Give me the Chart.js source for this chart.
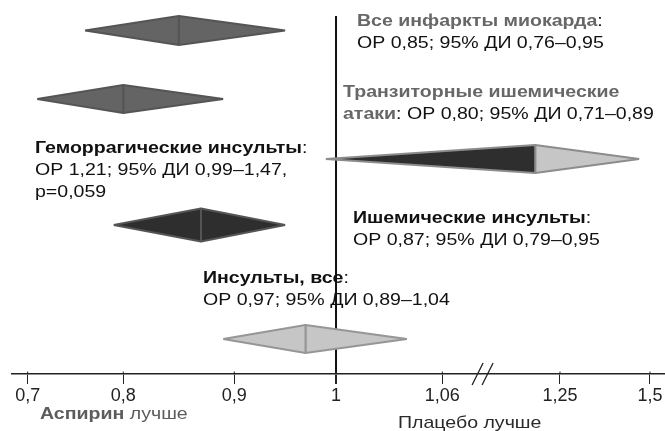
<!DOCTYPE html>
<html>
<head>
<meta charset="utf-8">
<script src="https://cdn.jsdelivr.net/npm/chart.js@4.4.1/dist/chart.umd.min.js"></script>
<style>
  html, body { margin: 0; padding: 0; background: #ffffff; }
  #wrap { width: 665px; height: 431px; }
</style>
</head>
<body>
<div id="wrap"><canvas id="forest" width="665" height="431"></canvas></div>
<script>
// ---- data ----
const outcomes  = ['Все инфаркты миокарда', 'Транзиторные ишемические атаки', 'Геморрагические инсульты', 'Ишемические инсульты', 'Инсульты, все'];
const riskRatio = [0.85, 0.80, 1.21, 0.87, 0.97];
const ciLow     = [0.76, 0.71, 0.99, 0.79, 0.89];
const ciHigh    = [0.95, 0.89, 1.47, 0.95, 1.04];
const pValue    = [null, null, 0.059, null, null];
const tickValues = [0.7, 0.8, 0.9, 1, 1.06, 1.25, 1.5];
const noEffect = 1;
const axisBreakAt = 1.125;
const sideLabels = ['Аспирин', 'лучше', 'Плацебо лучше'];

// ---- layout & style ----
// where each tick sits along the (broken) axis, as a fraction of the plot width
const TICK_PLACEMENT = [0.0240, 0.1704, 0.3404, 0.4962, 0.6590, 0.8392, 0.9770];
const PLOT_H = 374;          // height of the plotting band above the axis
const REF_TOP = 16;          // where the no-effect line starts
const ROWS = [               // vertical placement of each diamond
  { y: 30.5, half: 14.5 },
  { y: 99,   half: 14 },
  { y: 159,  half: 14 },
  { y: 225,  half: 16.5 },
  { y: 339,  half: 14 }
];
const DIAMOND_STYLE = [
  { left: '#646464', right: '#646464', edge: '#555555' },
  { left: '#646464', right: '#646464', edge: '#555555' },
  { left: '#2e2e2e', right: '#c6c6c6', edge: '#8c8c8c' },
  { left: '#2e2e2e', right: '#2e2e2e', edge: '#555555' },
  { left: '#c6c6c6', right: '#c6c6c6', edge: '#969696' }
];
const GREY = '#676767';
const INK = '#111111';
const FONT = '"Liberation Sans", Arial, sans-serif';
const FONT_PX = 17;
const TEXT_STRETCH = 1.15;
const LINE_GAP = 22;
const LABELS = [             // text block beside each diamond
  { x: 357, y: 26,  titleColor: GREY, firstLineWords: 3 },
  { x: 343, y: 97,  titleColor: GREY, firstLineWords: 2 },
  { x: 35,  y: 153, titleColor: INK,  firstLineWords: 2 },
  { x: 353, y: 223, titleColor: INK,  firstLineWords: 2 },
  { x: 203, y: 283, titleColor: INK,  firstLineWords: 2 }
];

const fmt = (v, d) => v.toFixed(d).replace('.', ',');

// ---- a linear scale with unevenly spaced, broken segments ----
class BrokenLinearScale extends Chart.LinearScale {
  buildTicks() {
    return tickValues.map(v => ({ value: v }));
  }
  _decimalFor(v) {
    const k = tickValues, f = TICK_PLACEMENT;
    let i = 0;
    while (i < k.length - 2 && v > k[i + 1]) i++;
    const t = (v - k[i]) / (k[i + 1] - k[i]);
    return f[i] + t * (f[i + 1] - f[i]);
  }
  getPixelForValue(v) {
    return this.getPixelForDecimal(this._decimalFor(v));
  }
  getValueForPixel(p) {
    const d = this.getDecimalForPixel(p);
    const k = tickValues, f = TICK_PLACEMENT;
    let i = 0;
    while (i < f.length - 2 && d > f[i + 1]) i++;
    const t = (d - f[i]) / (f[i + 1] - f[i]);
    return k[i] + t * (k[i + 1] - k[i]);
  }
}
BrokenLinearScale.id = 'brokenLinear';
BrokenLinearScale.defaults = Chart.LinearScale.defaults;
Chart.register(BrokenLinearScale);

// ---- diamonds: each one is two closed triangles meeting at the point estimate ----
const datasets = [];
outcomes.forEach((name, i) => {
  const r = ROWS[i], s = DIAMOND_STYLE[i];
  const top = r.y - r.half, bot = r.y + r.half;
  const common = {
    type: 'line', fill: 'shape', borderColor: s.edge, borderWidth: 2,
    borderJoinStyle: 'bevel', pointRadius: 0, tension: 0
  };
  datasets.push(Object.assign({}, common, {
    label: name,
    backgroundColor: s.left,
    data: [{ x: ciLow[i], y: r.y }, { x: riskRatio[i], y: top }, { x: riskRatio[i], y: bot }, { x: ciLow[i], y: r.y }]
  }));
  datasets.push(Object.assign({}, common, {
    label: name,
    backgroundColor: s.right,
    data: [{ x: ciHigh[i], y: r.y }, { x: riskRatio[i], y: top }, { x: riskRatio[i], y: bot }, { x: ciHigh[i], y: r.y }]
  }));
});
// line of no effect
datasets.push({
  type: 'line', label: 'ОР = 1', order: 10, fill: false,
  borderColor: '#111111', borderWidth: 2, pointRadius: 0,
  data: [{ x: noEffect, y: REF_TOP }, { x: noEffect, y: PLOT_H }]
});

function statLine(i) {
  return 'ОР ' + fmt(riskRatio[i], 2) + '; 95% ДИ ' + fmt(ciLow[i], 2) + '–' + fmt(ciHigh[i], 2);
}

function drawRuns(ctx, runs, x, y) {
  ctx.save();
  ctx.translate(x, y);
  ctx.scale(TEXT_STRETCH, 1);
  ctx.textAlign = 'left';
  ctx.textBaseline = 'alphabetic';
  let cx = 0;
  for (const r of runs) {
    ctx.font = (r.bold ? 'bold ' : '') + FONT_PX + 'px ' + FONT;
    ctx.fillStyle = r.color;
    ctx.fillText(r.text, cx, 0);
    cx += ctx.measureText(r.text).width;
  }
  ctx.restore();
}

const annotations = {
  id: 'forestText',
  afterDraw(chart) {
    const ctx = chart.ctx;
    const xs = chart.scales.x;
    const axisY = chart.chartArea.bottom;

    // outcome captions
    outcomes.forEach((name, i) => {
      const L = LABELS[i];
      const words = name.split(' ');
      const head = words.slice(0, L.firstLineWords).join(' ');
      const tail = words.slice(L.firstLineWords).join(' ');
      const lines = [];
      if (tail) {
        lines.push([{ text: head, bold: true, color: L.titleColor }]);
        lines.push([{ text: tail, bold: true, color: L.titleColor }, { text: ': ' + statLine(i), color: INK }]);
      } else {
        lines.push([{ text: head, bold: true, color: L.titleColor }, { text: ':', color: INK }]);
        lines.push([{ text: statLine(i) + (pValue[i] !== null ? ',' : ''), color: INK }]);
      }
      if (pValue[i] !== null) lines.push([{ text: 'p=' + fmt(pValue[i], 3), color: INK }]);
      lines.forEach((runs, k) => drawRuns(ctx, runs, L.x, L.y + k * LINE_GAP));
    });

    // small upward part of each tick, so the ticks cross the axis
    xs.ticks.forEach((t, i) => {
      const px = xs.getPixelForTick(i);
      ctx.save();
      ctx.strokeStyle = '#222222';
      ctx.lineWidth = t.value === noEffect ? 2 : 1;
      ctx.beginPath();
      ctx.moveTo(px, axisY - 2.5); ctx.lineTo(px, axisY);
      ctx.stroke();
      ctx.restore();
    });

    // axis break mark
    const bx = xs.getPixelForValue(axisBreakAt);
    ctx.save();
    ctx.strokeStyle = '#222222';
    ctx.lineWidth = 1.3;
    ctx.beginPath();
    ctx.moveTo(bx - 10.5, axisY + 11); ctx.lineTo(bx + 0.5, axisY - 11);
    ctx.moveTo(bx - 0.5, axisY + 11);  ctx.lineTo(bx + 10.5, axisY - 11);
    ctx.stroke();
    ctx.restore();

    // direction captions under the axis
    drawRuns(ctx, [{ text: sideLabels[0], bold: true, color: '#5c5c5c' }, { text: ' ' + sideLabels[1], color: '#5c5c5c' }], 40, 419);
    drawRuns(ctx, [{ text: sideLabels[2], color: '#2a2a2a' }], 398, 428);
  }
};

new Chart(document.getElementById('forest'), {
  type: 'line',
  data: { datasets },
  options: {
    responsive: false,
    devicePixelRatio: 1,
    animation: false,
    events: [],
    layout: { padding: { left: 12, right: 0, top: 0, bottom: 0 } },
    plugins: { legend: { display: false }, tooltip: { enabled: false } },
    scales: {
      x: {
        type: 'brokenLinear',
        position: 'bottom',
        min: 0.68, max: 1.52,
        afterFit: (scale) => { scale.height = 431 - PLOT_H; },
        border: { display: true, color: '#222222', width: 1.5 },
        grid: {
          drawOnChartArea: false, drawTicks: true, tickLength: 10,
          color: '#222222',
          lineWidth: (c) => (c.tick && c.tick.value === noEffect ? 2 : 1)
        },
        ticks: {
          autoSkip: false, maxRotation: 0, minRotation: 0, padding: 1,
          color: '#222222',
          font: { family: FONT, size: 18 },
          callback: (v) => fmt(v, v === 1 ? 0 : (String(v).split('.')[1] || '').length)
        }
      },
      y: { type: 'linear', display: false, min: 0, max: PLOT_H, reverse: true }
    }
  },
  plugins: [annotations]
});
</script>
</body>
</html>
